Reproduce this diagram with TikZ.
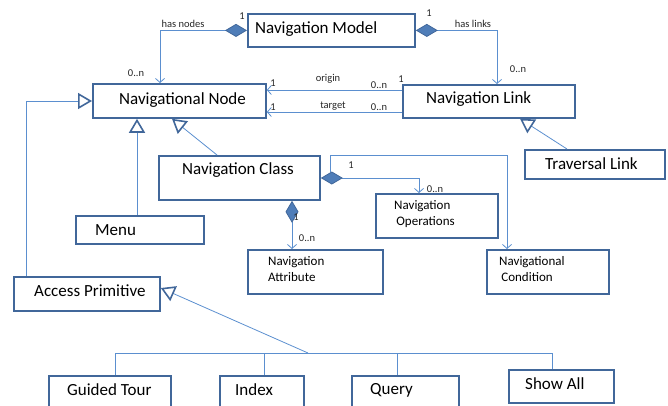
\documentclass[tikz,border=0pt]{standalone}
\usepackage{fontspec}
\setmainfont{Carlito}
\usetikzlibrary{arrows.meta}

\definecolor{boxblue}{HTML}{41679A}
\definecolor{lineblue}{HTML}{5B8FCF}
\definecolor{diafill}{HTML}{4F7DB8}

\begin{document}
\begin{tikzpicture}[
    x=1pt, y=-1pt,
    classbox/.style={rectangle, draw=boxblue, line width=1.8pt, fill=white, inner sep=0pt, anchor=north west},
    bigtext/.style={font=\fontsize{17}{20}\selectfont, inner sep=0pt, anchor=west},
    midtext/.style={font=\fontsize{13}{16}\selectfont, inner sep=0pt, anchor=west, align=left},
    multlabel/.style={font=\fontsize{10.5}{12}\selectfont, inner sep=0pt, text=black!85},
    assoc/.style={draw=lineblue, line width=0.8pt, -{Straight Barb[length=4pt, width=9pt]}},
    plainline/.style={draw=lineblue, line width=0.8pt},
    comp/.style={draw=lineblue, line width=0.8pt,
        {Diamond[length=22pt, width=13pt, fill=diafill, color=boxblue, line width=0.8pt]}-{Straight Barb[length=4pt, width=9pt]}},
    gen/.style={draw=lineblue, line width=0.8pt,
        -{Triangle[open, length=14pt, width=16pt, line width=1.6pt, color=boxblue, fill=white]}},
    ]
    \useasboundingbox (0,0) rectangle (668,405);

    %Boxes
    \node[classbox, minimum width=167pt, minimum height=33pt] (model)    at (247,13)  {};
    \node[classbox, minimum width=173pt, minimum height=34pt] (navnode)  at (92,83)   {};
    \node[classbox, minimum width=172pt, minimum height=33pt] (navlink)  at (402,84)  {};
    \node[classbox, minimum width=161pt, minimum height=44pt] (navclass) at (158,155) {};
    \node[classbox, minimum width=140pt, minimum height=29pt] (travlink) at (524,149) {};
    \node[classbox, minimum width=128pt, minimum height=28pt] (menu)     at (75,215)  {};
    \node[classbox, minimum width=146pt, minimum height=34pt] (access)   at (13,276)  {};
    \node[classbox, minimum width=135pt, minimum height=44pt] (navattr)  at (247,249) {};
    \node[classbox, minimum width=122pt, minimum height=44pt] (navops)   at (375,193) {};
    \node[classbox, minimum width=122pt, minimum height=44pt] (navcond)  at (486,249) {};
    \node[classbox, minimum width=122pt, minimum height=36pt] (tour)     at (48,375)  {};
    \node[classbox, minimum width=84pt,  minimum height=36pt] (index)    at (219,375) {};
    \node[classbox, minimum width=107pt, minimum height=36pt] (query)    at (351,375) {};
    \node[classbox, minimum width=105pt, minimum height=33pt] (showall)  at (508,369) {};

    %Box texts
    \node[bigtext] (modelt)    at (255,29.5) {Navigation Model};
    \node[bigtext] (navnodet)  at (119,100)  {Navigational Node};
    \node[bigtext] (navlinkt)  at (426,99)   {Navigation Link};
    \node[bigtext] (navclasst) at (182,170)  {Navigation Class};
    \node[bigtext] (travlinkt) at (545,164)  {Traversal Link};
    \node[bigtext] (menut)     at (95,230)   {Menu};
    \node[bigtext] (accesst)   at (34,291)   {Access Primitive};
    \node[bigtext] (tourt)     at (67,390)   {Guided Tour};
    \node[bigtext] (indext)    at (235,390)  {Index};
    \node[bigtext] (queryt)    at (370,390)  {Query};
    \node[bigtext] (showallt)  at (525,384)  {Show All};
    \node[midtext] (navopst)   at (394,214)  {Navigation\\\,Operations};
    \node[midtext] (navcondt)  at (499,269)  {Navigational\\\,Condition};
    \node[midtext] (navattrt)  at (268,269)  {Navigation\\Attribute};

    %Lines
    \draw[comp] (model.west) -| (navnode.north -| 160,0);
    \draw[comp] (model.east) -| (navlink.north -| 497,0);
    \draw[assoc] (navlink.west |- 0,90) -- (navnode.east |- 0,90);
    \draw[assoc] (navlink.west |- 0,112) -- (navnode.east |- 0,112);
    \draw[gen] (travlink.north -| 567,0) -- (navlink.south -| 520,0);
    \draw[gen] (navclass.north -| 217,0) -- (navnode.south -| 172,0);
    \draw[gen] (menu.north -| 137,0) -- (navnode.south -| 137,0);
    \draw[gen] (access.north -| 26,0) |- (navnode.west |- 0,101);
    \draw[comp] (navclass.south -| 292,0) -- (navattr.north -| 292,0);
    \draw[comp] (navclass.east |- 0,178) -| (navops.north -| 419,0);
    \coordinate (condstart) at (330,172);
    \draw[assoc] (condstart) |- (507,155) -- (navcond.north -| 507,0);

    %Specialisations of access primitive
    \coordinate (bus) at (308,353);
    \draw[plainline] (tour.north -| 115,0) -- (115,353) -- (552,353) -- (showall.north -| 552,0);
    \draw[plainline] (index.north -| 264,0) -- (264,353);
    \draw[plainline] (query.north -| 397,0) -- (397,353);
    \draw[gen] (bus) -- (access.east |- 0,288);

    %Labels
    \node[multlabel] (hasnodes) at (183,24)  {has nodes};
    \node[multlabel] (m1)       at (242,16)  {1};
    \node[multlabel] (m2)       at (136,73)  {0..n};
    \node[multlabel] (haslinks) at (473,24)  {has links};
    \node[multlabel] (m3)       at (429,13)  {1};
    \node[multlabel] (m4)       at (518,69)  {0..n};
    \node[multlabel] (origin)   at (328,79)  {origin};
    \node[multlabel] (m5)       at (273,83)  {1};
    \node[multlabel] (m6)       at (379,85)  {0..n};
    \node[multlabel] (m7)       at (401,79)  {1};
    \node[multlabel] (target)   at (333,106) {target};
    \node[multlabel] (m8)       at (273,107) {1};
    \node[multlabel] (m9)       at (379,107) {0..n};
    \node[multlabel] (m10)      at (296,217) {1};
    \node[multlabel] (m11)      at (307,238) {0..n};
    \node[multlabel] (m12)      at (351,165) {1};
    \node[multlabel] (m13)      at (435,189) {0..n};
\end{tikzpicture}
\end{document}
